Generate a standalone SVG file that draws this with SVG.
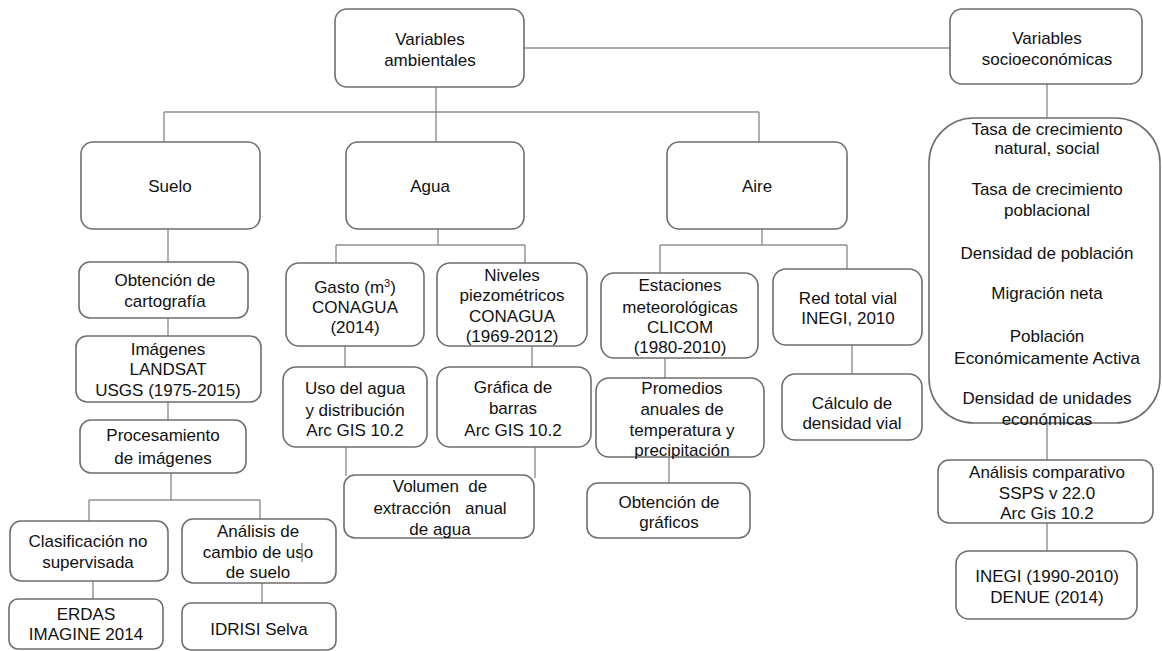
<svg xmlns="http://www.w3.org/2000/svg" width="1162" height="651" viewBox="0 0 1162 651">
<style>
.b{fill:#fff;stroke:#6e6e6e;stroke-width:1.6}
.c{fill:none;stroke:#909090;stroke-width:1.4}
text{font-family:"Liberation Sans",Arial,sans-serif;font-size:17px;fill:#111;text-anchor:middle;white-space:pre}
</style>
<rect width="1162" height="651" fill="#fff"/>
<g id="connectors">
<path class="c" d="M524 48H950"/>
<path class="c" d="M436 87V112M164 112H759M164 112V142M436 112V142M759 112V142"/>
<path class="c" d="M1047 84V118"/>
<path class="c" d="M168 229V262M168 318V336M168 402V420M171 473V500M89 500H260M89 500V521M260 500V519M93 581V599M262 583V603"/>
<path class="c" d="M438 229V245M336 245H525M336 245V263M525 245V263M345 346V367M532 346V367M346 447V476M535 447V478"/>
<path class="c" d="M762 229V245M660 245H847M660 245V273M847 245V269M665 358V378M669 457V483M852 345V374"/>
<path class="c" d="M1047 423V460M1047 523V551"/>
</g>
<g id="n-amb"><rect class="b" x="335" y="9" width="189" height="78" rx="12"/><text x="430" y="45">Variables</text><text x="430" y="66">ambientales</text></g>
<g id="n-soc"><rect class="b" x="950" y="9" width="192" height="75" rx="12"/><text x="1047" y="44">Variables</text><text x="1047" y="65">socioeconómicas</text></g>
<g id="n-suelo"><rect class="b" x="81" y="142" width="179" height="87" rx="12"/><text x="170" y="192">Suelo</text></g>
<g id="n-agua"><rect class="b" x="346" y="142" width="178" height="87" rx="12"/><text x="430" y="192">Agua</text></g>
<g id="n-aire"><rect class="b" x="667" y="142" width="180" height="87" rx="12"/><text x="757" y="192">Aire</text></g>
<g id="n-socvars"><rect class="b" x="929" y="118" width="231" height="305" rx="45"/>
<text x="1047" y="135">Tasa de crecimiento</text><text x="1047" y="154">natural, social</text>
<text x="1047" y="195">Tasa de crecimiento</text><text x="1047" y="216">poblacional</text>
<text x="1047" y="259">Densidad de población</text>
<text x="1047" y="299">Migración neta</text>
<text x="1047" y="342">Población</text><text x="1047" y="364" textLength="186" lengthAdjust="spacingAndGlyphs">Económicamente Activa</text>
<text x="1047" y="404">Densidad de unidades</text><text x="1047" y="425">económicas</text></g>
<g id="n-obt"><rect class="b" x="79" y="262" width="169" height="56" rx="11"/><text x="165" y="286">Obtención de</text><text x="165" y="307">cartografía</text></g>
<g id="n-img"><rect class="b" x="76" y="336" width="185" height="66" rx="11"/><text x="168" y="355">Imágenes</text><text x="168" y="375">LANDSAT</text><text x="168" y="396">USGS (1975-2015)</text></g>
<g id="n-proc"><rect class="b" x="80" y="420" width="166" height="53" rx="11"/><text x="163" y="441">Procesamiento</text><text x="163" y="464">de imágenes</text></g>
<g id="n-clas"><rect class="b" x="10" y="521" width="158" height="60" rx="11"/><text x="88" y="547">Clasificación no</text><text x="88" y="568">supervisada</text></g>
<g id="n-anal"><rect class="b" x="182" y="519" width="154" height="64" rx="11"/><text x="258" y="537">Análisis de</text><text x="258" y="558">cambio de uso</text><text x="258" y="578">de suelo</text><path class="c" d="M302 543V562"/></g>
<g id="n-erdas"><rect class="b" x="9" y="599" width="154" height="50" rx="9"/><text x="86" y="620">ERDAS</text><text x="86" y="640">IMAGINE 2014</text></g>
<g id="n-idrisi"><rect class="b" x="182" y="603" width="154" height="47" rx="9"/><text x="259" y="635">IDRISI Selva</text></g>
<g id="n-gasto"><rect class="b" x="286" y="263" width="138" height="83" rx="13"/><text x="355" y="293">Gasto (m<tspan font-size="11" dy="-6">3</tspan><tspan dy="6">)</tspan></text><text x="355" y="313">CONAGUA</text><text x="355" y="333">(2014)</text></g>
<g id="n-niv"><rect class="b" x="437" y="263" width="150" height="83" rx="13"/><text x="512" y="281">Niveles</text><text x="512" y="301">piezométricos</text><text x="512" y="322">CONAGUA</text><text x="512" y="342">(1969-2012)</text></g>
<g id="n-uso"><rect class="b" x="283" y="367" width="144" height="80" rx="13"/><text x="355" y="394">Uso del agua</text><text x="355" y="416">y distribución</text><text x="355" y="436">Arc GIS 10.2</text></g>
<g id="n-graf"><rect class="b" x="437" y="367" width="154" height="80" rx="13"/><text x="513" y="393">Gráfica de</text><text x="513" y="414">barras</text><text x="513" y="436">Arc GIS 10.2</text></g>
<g id="n-vol"><rect class="b" x="344" y="475" width="190" height="63" rx="11"/><text x="440" y="492">Volumen  de</text><text x="440" y="514">extracción   anual</text><text x="440" y="535">de agua</text></g>
<g id="n-est"><rect class="b" x="601" y="273" width="157" height="85" rx="13"/><text x="680" y="291">Estaciones</text><text x="680" y="313">meteorológicas</text><text x="680" y="333">CLICOM</text><text x="680" y="353">(1980-2010)</text></g>
<g id="n-red"><rect class="b" x="773" y="269" width="149" height="76" rx="13"/><text x="848" y="304">Red total vial</text><text x="848" y="324">INEGI, 2010</text></g>
<g id="n-prom"><rect class="b" x="596" y="378" width="168" height="79" rx="13"/><text x="682" y="394">Promedios</text><text x="682" y="415">anuales de</text><text x="682" y="436">temperatura y</text><text x="682" y="456">precipitación</text></g>
<g id="n-obg"><rect class="b" x="587" y="483" width="163" height="55" rx="11"/><text x="669" y="508">Obtención de</text><text x="669" y="528">gráficos</text></g>
<g id="n-calc"><rect class="b" x="782" y="374" width="140" height="66" rx="13"/><text x="852" y="409">Cálculo de</text><text x="852" y="429">densidad vial</text></g>
<g id="n-comp"><rect class="b" x="938" y="460" width="215" height="63" rx="11"/><text x="1047" y="478">Análisis comparativo</text><text x="1047" y="499">SSPS v 22.0</text><text x="1047" y="519">Arc Gis 10.2</text></g>
<g id="n-inegi"><rect class="b" x="956" y="551" width="181" height="68" rx="13"/><text x="1047" y="582">INEGI (1990-2010)</text><text x="1047" y="603">DENUE (2014)</text></g>
</svg>
